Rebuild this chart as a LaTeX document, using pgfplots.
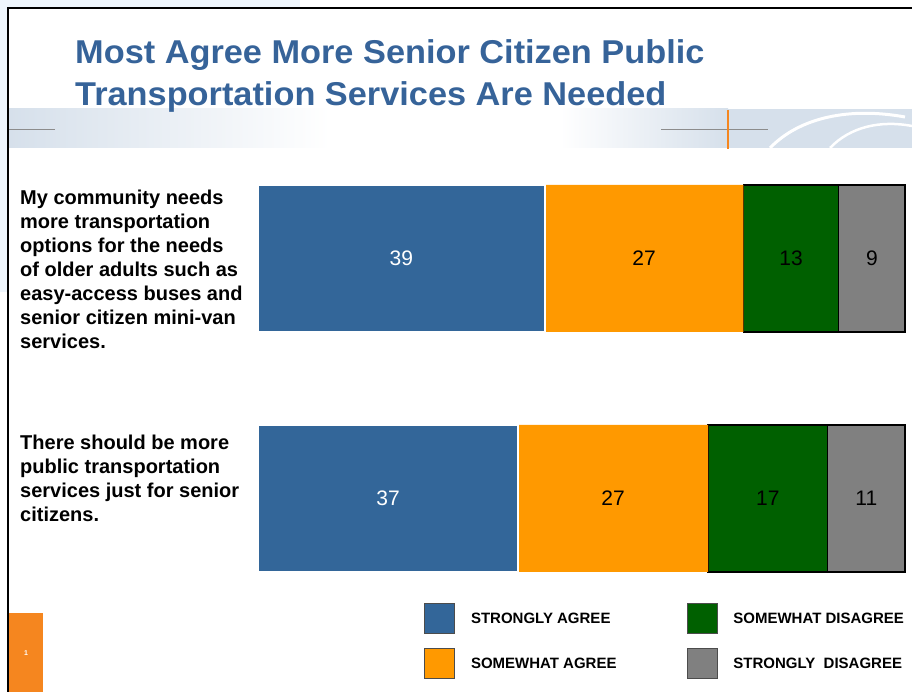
\documentclass[border=0pt]{standalone}
\usepackage{fontspec}
\setmainfont{Liberation Sans}
\newfontfamily\titlefont[FakeStretch=1.04]{Liberation Sans}
\usepackage{pgfplots}
\pgfplotsset{compat=1.18}
\usepackage{pgfplotstable}

\definecolor{saBlue}{RGB}{51,102,153}
\definecolor{waOrange}{RGB}{255,153,0}
\definecolor{wdGreen}{RGB}{0,96,0}
\definecolor{sdGray}{RGB}{128,128,128}
\definecolor{titleBlue}{RGB}{54,99,153}
\definecolor{slideOrange}{RGB}{245,134,31}
\definecolor{bandGray}{RGB}{214,224,235}
\definecolor{tint}{RGB}{238,245,252}

% raw answers (percent); bars are drawn normalised to the same length
\pgfplotstableread{
y sa wa wd sd
1 39 27 13 9
0 37 27 17 11
}\agreement
\newcommand{\tot}{(\thisrow{sa}+\thisrow{wa}+\thisrow{wd}+\thisrow{sd})}

\begin{document}
\begin{tikzpicture}[x=1bp,y=1bp]
  \useasboundingbox (0,0) rectangle (912,692);
  % slide decoration
  \fill[tint] (0,684) rectangle (300,692);
  \fill[tint] (0,400) rectangle (7,692);
  \shade[left color=bandGray, right color=white] (9,544) rectangle (330,583);
  \shade[left color=white, right color=bandGray] (560,544) rectangle (728,583);
  \fill[bandGray] (728,544) rectangle (912,583);
  \draw[white, line width=3bp] (770,544) .. controls (800,575) and (850,585) .. (905,575);
  \draw[white, line width=2.5bp] (830,544) .. controls (850,565) and (880,572) .. (912,566);
  \draw[black!45, line width=1bp] (9,562) -- (55,562);
  \draw[black!45, line width=1bp] (661,562) -- (768,562);
  \draw[slideOrange, line width=1.2bp] (728,543) -- (728,582);
  \draw[line width=2bp] (8,0) -- (8,684) -- (912,684);
  \fill[slideOrange] (9,0) rectangle (43,79);
  \node[text=white, font=\bfseries\fontsize{7bp}{8bp}\selectfont] at (26,39) {1};

  % title
  \node[anchor=base west, inner sep=0, text=titleBlue,
        font=\titlefont\bfseries\fontsize{33bp}{38bp}\selectfont]
        at (75,628) {Most Agree More Senior Citizen Public};
  \node[anchor=base west, inner sep=0, text=titleBlue,
        font=\titlefont\bfseries\fontsize{33bp}{38bp}\selectfont]
        at (75,586) {Transportation Services Are Needed};

  % statements
  \node[anchor=north west, inner sep=0, align=left,
        font=\bfseries\fontsize{20bp}{24bp}\selectfont] at (20,502)
    {My community needs\\more transportation\\options for the needs\\of older adults such as\\easy-access buses and\\senior citizen mini-van\\services.};
  \node[anchor=north west, inner sep=0, align=left,
        font=\bfseries\fontsize{20bp}{24bp}\selectfont] at (20,257)
    {There should be more\\public transportation\\services just for senior\\citizens.};

  \begin{axis}[
      at={(258bp,97.5bp)}, anchor=south west,
      scale only axis, width=647bp, height=432bp,
      xbar stacked, bar width=147bp,
      xmin=0, xmax=100, ymin=-0.4, ymax=1.4,
      hide axis, clip=false,
      legend columns=2, transpose legend, legend cell align=left,
      legend image code/.code={
        \draw[#1, draw=black!70, line width=0.8bp] (0bp,-15bp) rectangle (30bp,15bp);},
      legend style={
        at={(0.2566,-0.02)}, anchor=north west,
        draw=none, fill=none, inner sep=0pt, row sep=14bp,
        font=\bfseries\fontsize{15bp}{17bp}\selectfont,
        nodes={inner sep=0pt},
        /tikz/every odd column/.append style={column sep=16bp},
        /tikz/every even column/.append style={column sep=70bp}},
    ]
    \addplot[fill=saBlue, draw=white, line width=1.5bp]
      table[x expr={\thisrow{sa}*100/\tot}, y=y]{\agreement};
    \addplot[fill=waOrange, draw=none]
      table[x expr={\thisrow{wa}*100/\tot}, y=y]{\agreement};
    \addplot[fill=wdGreen, draw=black, line width=1.2bp]
      table[x expr={\thisrow{wd}*100/\tot}, y=y]{\agreement};
    \addplot[fill=sdGray, draw=black, line width=1.2bp]
      table[x expr={\thisrow{sd}*100/\tot}, y=y]{\agreement};
    \legend{STRONGLY AGREE, SOMEWHAT AGREE, SOMEWHAT DISAGREE, STRONGLY\ \ DISAGREE}
  \end{axis}

  % value labels, centred in each segment
  \begin{axis}[
      at={(258bp,97.5bp)}, anchor=south west,
      scale only axis, width=647bp, height=432bp,
      xmin=0, xmax=100, ymin=-0.4, ymax=1.4,
      hide axis, clip=false,
      /pgf/number format/assume math mode=true,
      nodes near coords, point meta=explicit,
      every node near coord/.append style={anchor=center,
        font=\fontsize{21bp}{23bp}\selectfont},
    ]
    \addplot[draw=none, nodes near coords style={text=white}]
      table[x expr={0.5*\thisrow{sa}*100/\tot}, y=y, meta=sa]{\agreement};
    \addplot[draw=none]
      table[x expr={(\thisrow{sa}+0.5*\thisrow{wa})*100/\tot}, y=y, meta=wa]{\agreement};
    \addplot[draw=none]
      table[x expr={(\thisrow{sa}+\thisrow{wa}+0.5*\thisrow{wd})*100/\tot}, y=y, meta=wd]{\agreement};
    \addplot[draw=none]
      table[x expr={(\thisrow{sa}+\thisrow{wa}+\thisrow{wd}+0.5*\thisrow{sd})*100/\tot}, y=y, meta=sd]{\agreement};
  \end{axis}
\end{tikzpicture}
\end{document}
